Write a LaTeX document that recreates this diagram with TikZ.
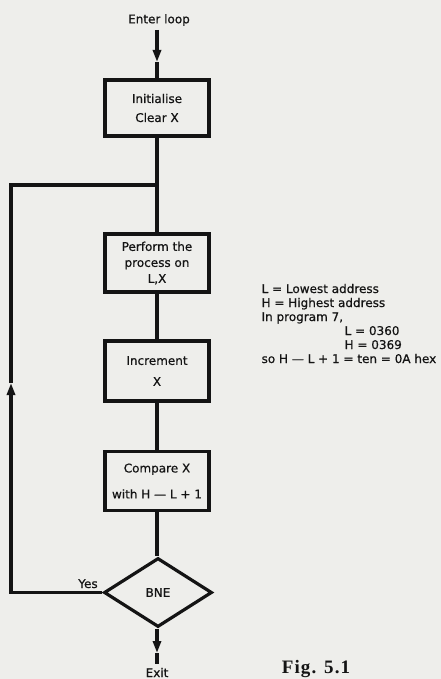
\documentclass[tikz,border=0pt]{standalone}
\usepackage{fontspec}
\setmainfont{DejaVu Sans}[FakeBold=0.6]
\newfontfamily\plainfont{DejaVu Sans}[FakeBold=0.6,Ligatures=TeX]
\newfontfamily\figfont{Liberation Serif}[LetterSpace=6]
\usetikzlibrary{shapes.geometric,arrows.meta}
\definecolor{paper}{RGB}{238,238,235}
\definecolor{ink}{RGB}{20,20,20}
\begin{document}
\begin{tikzpicture}[x=1pt,y=-1pt,
  line width=3.2pt, draw=ink,
  every node/.style={text=ink},
  txt/.style={font=\plainfont\fontsize{12}{15}\selectfont},
  box/.style={draw=ink, line width=3.2pt, minimum width=104pt, inner sep=0pt,
    align=center, font=\plainfont\fontsize{12}{15}\selectfont},
  dec/.style={draw=ink, diamond, aspect=1.57, minimum width=108pt,
    minimum height=69pt, inner sep=0pt, line width=3.2pt,
    font=\plainfont\fontsize{12}{15}\selectfont},
  tip/.style={-{Triangle[length=12pt,width=8pt]}}]
\useasboundingbox (0,0) rectangle (441,679);
\fill[paper] (0,0) rectangle (441,679);

\node[txt] (enter) at (159,20) {Enter loop};
\node[box, minimum height=56pt] (init) at (157,108) {Initialise\\[4pt]Clear X};
\node[box, minimum height=58pt] (perf) at (157,263) {Perform the\\[1pt]process on\\[1pt]L,X};
\node[box, minimum height=60pt] (incr) at (157,371) {Increment\\[6pt]X};
\node[box, minimum height=59pt] (comp) at (157,481) {Compare X\\[11pt]with H — L + 1};
\node[dec] (bne) at (158,592.5) {BNE};
\node[txt, anchor=base] (yes) at (88,588) {Yes};
\node[txt, anchor=base, inner sep=0pt] (exit) at (157,677) {Exit};
\node[font=\figfont\bfseries\fontsize{19}{22}\selectfont, anchor=base, inner sep=0pt] (fig) at (316,673) {Fig. 5.1};

\node[txt, anchor=base west, inner sep=0pt] (t1) at (260,293) {L = Lowest address};
\node[txt, anchor=base west, inner sep=0pt] (t2) at (260,307) {H = Highest address};
\node[txt, anchor=base west, inner sep=0pt] (t3) at (260,321) {In program 7,};
\node[txt, anchor=base west, inner sep=0pt] (t4) at (343,335) {L = 0360};
\node[txt, anchor=base west, inner sep=0pt] (t5) at (343,349) {H = 0369};
\node[txt, anchor=base west, inner sep=0pt] (t6) at (260,363) {so H — L + 1 = ten = 0A hex};

\coordinate (in) at (157,30);
\coordinate (m1) at (157,62);
\coordinate (j) at (157,185);
\coordinate (ll) at (11,592.5);
\coordinate (lm) at (11,383);
\coordinate (lt) at (11,185);
\coordinate (m2) at (157,653);
\coordinate (out) at (157,664);

\draw[tip] (in) -- (m1);
\draw (m1) -- (init.north);
\draw (init) -- (perf);
\draw (perf) -- (incr);
\draw (incr) -- (comp);
\draw (comp.south) -- (comp.south |- bne.north);
\draw[tip] (bne.west) -- (ll) -- (lm);
\draw (lm) -- (lt) -- (j);
\draw[tip] (bne.south -| m2) -- (m2);
\draw (m2) -- (out);
\end{tikzpicture}
\end{document}
